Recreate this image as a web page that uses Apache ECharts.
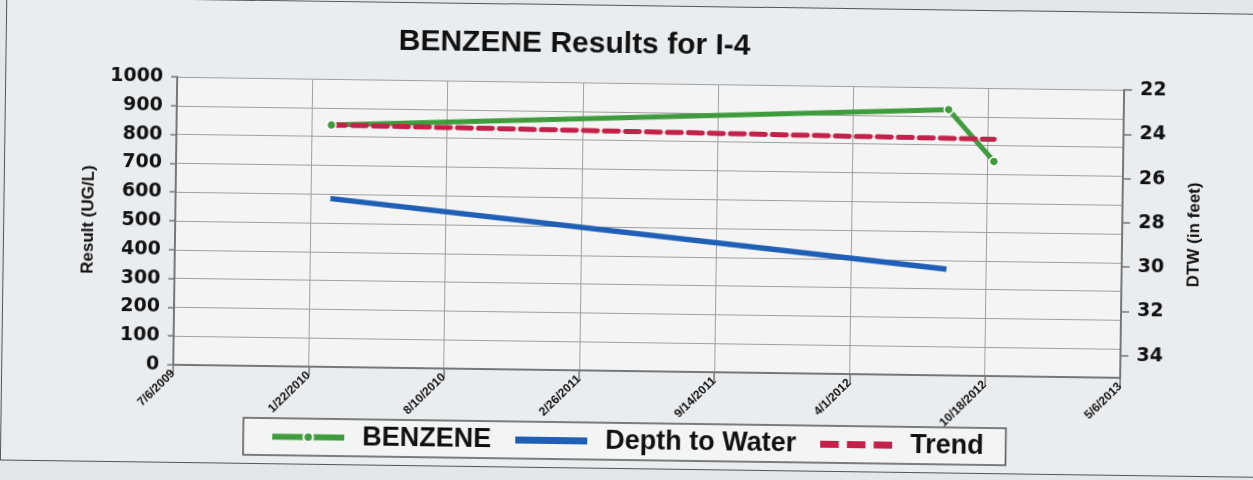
<!DOCTYPE html>
<html><head><meta charset="utf-8">
<script src="https://cdn.jsdelivr.net/npm/echarts@6/dist/echarts.min.js"></script>
<style>
html,body{margin:0;padding:0;background:#e4e7ea;width:1253px;height:480px;overflow:hidden}
#frame{position:absolute;left:4px;top:6px;width:1275px;height:462px;outline:1.5px solid #555;transform:rotate(0.79deg);transform-origin:622px 234px;background:#eaedf0}
#chart{position:absolute;left:-4px;top:-6px;width:1253px;height:480px}
</style></head><body>
<div id="frame"><div id="chart"></div></div>
<script>
// ---- data ----
const axisStart = '7/6/2009';           // first x tick
const axisEnd = '5/6/2013';             // last x tick
const xTickDays = 200;                  // spacing of x ticks (days)
const sampleDates = ['2/20/2010', '8/20/2012', '10/27/2012'];
const benzene = [840, 923, 745];        // UG/L
const dtwDates = ['2/20/2010', '8/20/2012'];
const depthToWater = [27.4, 30.2];      // feet
const trendDates = ['2/20/2010', '10/27/2012'];
const trend = [840, 822];               // UG/L
const seriesNames = ['BENZENE', 'Depth to Water', 'Trend'];

function toUTC(s) { const p = s.split('/').map(Number); return Date.UTC(p[2], p[0] - 1, p[1]); }
const t0 = toUTC(axisStart);
function dayOff(s) { return Math.round((toUTC(s) - t0) / 86400000); }
function fmt(v) { const d = new Date(t0 + v * 86400000); return (d.getUTCMonth() + 1) + '/' + d.getUTCDate() + '/' + d.getUTCFullYear(); }
function pairs(dates, vals) { return dates.map((d, i) => [dayOff(d), vals[i]]); }

const chart = echarts.init(document.getElementById('chart'), null, { renderer: 'canvas' });
const axisCol = '#777';
const gridCol = '#a0a0a0';
const green = '#3f9c3c', blue = '#1f5fb5', red = '#c4214a';
const labelFont = { fontFamily: 'DejaVu Sans', fontWeight: 'bold', fontSize: 19, color: '#111', formatter: v => String(v) };
const nameFont = { fontFamily: 'Liberation Sans', fontWeight: 'bold', fontSize: 17, color: '#111' };
chart.setOption({
  animation: false,
  title: {
    text: 'BENZENE Results for I-4', left: 391, top: 25,
    textStyle: { fontFamily: 'Liberation Sans', fontWeight: 'bold', fontSize: 30, color: '#111' }
  },
  legend: {
    left: 246, top: 423, orient: 'horizontal',
    padding: [5, 22, 5, 26], borderColor: '#555', borderWidth: 1.5, backgroundColor: '#f3f4f4',
    itemWidth: 72, itemHeight: 12, itemGap: 24,
    lineStyle: { width: 6 },
    textStyle: { fontFamily: 'Liberation Sans', fontWeight: 'bold', fontSize: 27, color: '#111', padding: [0, 0, 0, 13] },
    data: [
      { name: seriesNames[0] },
      { name: seriesNames[1], icon: 'path://M0,0H70V7H0Z' },
      { name: seriesNames[2], icon: 'path://M0,0H18V7H0Z M26,0H44V7H26Z M52,0H70V7H52Z' }
    ]
  },
  grid: { left: 175, right: 131, top: 83, bottom: 109, show: true, backgroundColor: '#f3f4f3', borderWidth: 0 },
  xAxis: {
    type: 'value', min: 0, max: dayOff(axisEnd), interval: xTickDays,
    axisLine: { show: true, onZero: false, lineStyle: { color: axisCol, width: 2 } },
    axisTick: { show: true, length: 9, lineStyle: { color: axisCol, width: 1.5 } },
    splitLine: { show: true, lineStyle: { color: gridCol, width: 1 } },
    axisLabel: { formatter: fmt, rotate: 45, margin: 7, fontFamily: 'Liberation Sans', fontWeight: 'bold', fontSize: 12, color: '#111' }
  },
  yAxis: [{
    type: 'value', min: 0, max: 1000, interval: 100, position: 'left',
    name: 'Result (UG/L)', nameLocation: 'middle', nameRotate: 90, nameGap: 76,
    nameTextStyle: nameFont,
    axisLine: { show: true, lineStyle: { color: axisCol, width: 2 } },
    axisTick: { show: true, length: 6, lineStyle: { color: axisCol, width: 1.5 } },
    splitLine: { show: true, lineStyle: { color: gridCol, width: 1 } },
    axisLabel: Object.assign({ margin: 14 }, labelFont)
  }, {
    type: 'value', min: 22, max: 35, interval: 2, position: 'right', inverse: true,
    name: 'DTW (in feet)', nameLocation: 'middle', nameRotate: 90, nameGap: 64,
    nameTextStyle: nameFont,
    axisLine: { show: true, lineStyle: { color: axisCol, width: 2 } },
    axisTick: { show: true, length: 8, lineStyle: { color: axisCol, width: 1.5 } },
    splitLine: { show: false },
    axisLabel: Object.assign({ margin: 16, showMaxLabel: false }, labelFont)
  }],
  series: [{
    name: seriesNames[0], type: 'line', yAxisIndex: 0, data: pairs(sampleDates, benzene),
    symbol: 'circle', symbolSize: 9, showAllSymbol: true,
    lineStyle: { color: green, width: 5 },
    itemStyle: { color: green, borderColor: '#ffffff', borderWidth: 1.5 }
  }, {
    name: seriesNames[1], type: 'line', yAxisIndex: 1, data: pairs(dtwDates, depthToWater),
    symbol: 'none', lineStyle: { color: blue, width: 5.5 }, itemStyle: { color: blue }
  }, {
    name: seriesNames[2], type: 'line', yAxisIndex: 0, data: pairs(trendDates, trend),
    symbol: 'none', lineStyle: { color: red, width: 5, type: [14, 7], cap: 'round' }, itemStyle: { color: red }
  }]
});
</script>
</body></html>
